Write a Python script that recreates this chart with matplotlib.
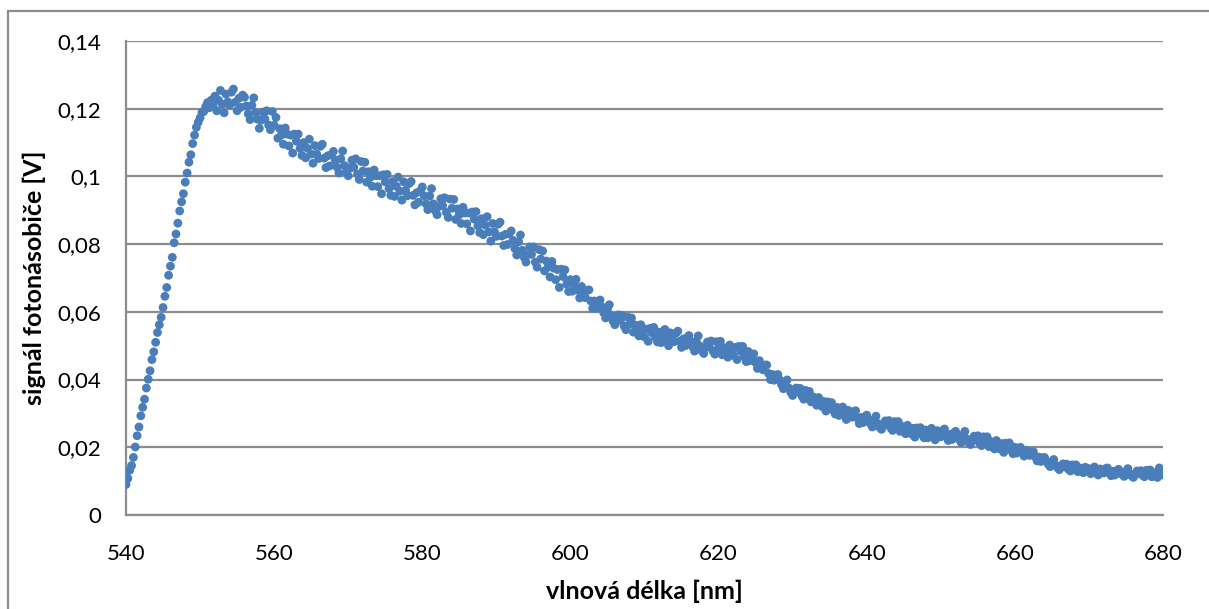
import numpy as np
import matplotlib
matplotlib.use("Agg")
import matplotlib.pyplot as plt
from matplotlib.patches import Rectangle
from matplotlib.ticker import FuncFormatter

# wavelength grid [nm] and photomultiplier signal [mV]
wavelength_start = 540.0
wavelength_step = 0.25
signal_mV = [
    9.0, 10.8, 13.2, 14.6, 17.0, 20.1, 23.4, 26.0,
    29.3, 31.8, 34.2, 37.5, 40.1, 42.6, 45.9, 48.2,
    51.0, 53.9, 56.2, 58.4, 61.3, 64.6, 67.2, 70.8,
    73.5, 76.1, 80.4, 83.0, 86.2, 89.8, 92.5, 94.9,
    98.3, 101.0, 104.2, 106.4, 109.7, 112.2, 114.5, 116.0,
    117.3, 118.9, 119.2, 120.6, 121.8, 120.3, 122.5, 121.0,
    123.7, 119.4, 122.5, 125.4, 121.3, 118.8, 124.3, 122.0,
    121.1, 124.9, 125.8, 121.9, 119.4, 123.1, 120.4, 124.0,
    123.4, 120.8, 118.5, 116.8, 121.0, 123.2, 118.8, 116.9,
    114.2, 116.6, 119.0, 117.0, 119.4, 115.2, 113.8, 119.2,
    115.1, 117.4, 111.3, 114.1, 112.2, 109.5, 114.3, 112.5,
    109.0, 112.2, 106.9, 112.5, 110.4, 112.5, 108.3, 106.2,
    110.0, 105.5, 108.3, 111.0, 106.6, 103.9, 109.1, 106.6,
    105.3, 108.9, 109.5, 105.4, 102.6, 106.1, 103.1, 106.5,
    107.4, 104.9, 102.7, 101.0, 105.2, 107.5, 103.2, 101.3,
    100.2, 102.5, 104.8, 102.7, 105.2, 100.7, 99.1, 104.4,
    101.6, 104.2, 98.3, 101.4, 99.7, 97.1, 101.9, 100.2,
    97.0, 100.2, 94.9, 100.5, 98.4, 100.6, 96.4, 94.4,
    98.5, 94.1, 97.1, 99.8, 95.6, 93.0, 98.4, 95.9,
    94.3, 97.9, 98.5, 94.4, 91.6, 95.2, 92.4, 95.8,
    96.9, 94.3, 91.9, 90.2, 94.2, 96.4, 91.9, 89.9,
    88.7, 91.1, 93.4, 91.4, 93.7, 89.4, 87.9, 93.3,
    90.6, 93.2, 87.3, 90.4, 88.7, 86.1, 90.9, 89.2,
    86.0, 89.2, 83.9, 89.5, 87.4, 89.6, 85.4, 83.4,
    87.5, 82.8, 85.6, 88.1, 83.6, 80.9, 86.1, 83.6,
    82.3, 85.9, 86.5, 82.4, 79.6, 82.9, 79.9, 83.1,
    83.9, 81.1, 78.7, 76.8, 80.7, 82.7, 78.2, 76.1,
    74.7, 76.9, 79.2, 77.0, 79.2, 74.7, 73.2, 78.4,
    75.6, 78.0, 72.1, 75.0, 73.2, 70.3, 74.9, 72.9,
    69.5, 72.5, 67.2, 72.6, 70.4, 72.4, 68.2, 66.0,
    69.5, 66.1, 68.0, 69.6, 66.4, 64.1, 67.5, 65.4,
    64.2, 66.3, 66.5, 63.2, 61.0, 63.2, 61.0, 63.1,
    63.5, 61.5, 59.7, 58.2, 60.8, 62.1, 58.9, 57.3,
    56.2, 57.6, 59.1, 57.5, 58.9, 55.8, 54.7, 58.4,
    56.4, 58.2, 54.0, 56.1, 54.8, 52.9, 56.2, 54.9,
    52.6, 54.9, 51.3, 55.1, 53.8, 55.4, 52.5, 51.1,
    54.0, 50.9, 53.0, 54.8, 51.9, 50.0, 53.8, 52.0,
    51.2, 53.7, 54.3, 51.3, 49.5, 52.0, 50.0, 52.3,
    53.0, 51.3, 49.7, 48.4, 51.3, 52.9, 49.9, 48.5,
    47.7, 49.4, 51.1, 49.7, 51.4, 48.4, 47.5, 51.2,
    49.4, 51.3, 47.3, 49.4, 48.3, 46.6, 50.2, 49.1,
    47.1, 49.5, 45.9, 49.8, 48.3, 49.8, 46.7, 45.3,
    48.3, 45.6, 46.7, 47.6, 45.0, 43.3, 45.6, 43.9,
    42.9, 44.3, 44.3, 41.8, 40.0, 41.5, 39.8, 41.3,
    41.5, 39.9, 38.5, 37.3, 39.1, 39.9, 37.5, 36.2,
    35.3, 36.4, 37.5, 36.4, 37.4, 35.1, 34.2, 36.8,
    35.3, 36.5, 33.4, 34.9, 33.8, 32.4, 34.7, 33.8,
    32.0, 33.5, 30.7, 33.4, 32.2, 33.2, 30.9, 29.8,
    31.8, 29.4, 30.7, 31.9, 29.5, 28.2, 30.9, 29.5,
    28.9, 30.6, 30.8, 28.6, 27.0, 28.8, 27.3, 29.0,
    29.5, 28.2, 27.0, 26.0, 28.1, 29.2, 27.0, 25.9,
    25.3, 26.5, 27.8, 26.7, 27.9, 25.7, 25.0, 27.6,
    26.3, 27.6, 24.7, 26.2, 25.3, 24.0, 26.5, 25.6,
    24.0, 25.6, 23.0, 25.7, 24.7, 25.8, 23.7, 22.8,
    25.1, 22.8, 24.3, 25.6, 23.5, 22.2, 24.9, 23.7,
    23.1, 24.9, 25.4, 23.3, 22.0, 23.8, 22.3, 24.2,
    24.7, 23.4, 22.3, 21.4, 23.6, 24.7, 22.5, 21.4,
    20.8, 22.0, 23.3, 22.2, 23.4, 21.2, 20.5, 23.1,
    21.8, 23.1, 20.2, 21.7, 20.8, 19.5, 22.0, 21.1,
    19.5, 21.1, 18.5, 21.2, 20.2, 21.3, 19.2, 18.1,
    20.0, 18.3, 19.2, 20.0, 18.5, 17.4, 19.1, 18.1,
    17.6, 18.7, 18.7, 17.2, 16.0, 17.1, 15.8, 16.9,
    17.0, 16.0, 15.0, 14.3, 15.6, 16.4, 14.7, 14.0,
    13.4, 14.3, 15.1, 14.2, 15.0, 13.5, 13.0, 14.8,
    13.9, 14.8, 12.8, 13.9, 13.3, 12.5, 14.1, 13.6,
    13.7, 12.2, 13.2, 14.2, 12.7, 11.8, 13.6, 12.8,
    12.4, 13.7, 13.9, 12.6, 11.6, 12.9, 11.8, 13.1,
    13.5, 12.7, 11.9, 11.4, 12.8, 13.7, 12.2, 11.6,
    11.1, 12.1, 13.0, 12.3, 13.1, 11.7, 11.3, 13.2,
    12.3, 13.3, 11.3, 12.5, 11.9, 11.1, 13.9, 12.3,
    11.8,
]

x_ticks = [540, 560, 580, 600, 620, 640, 660, 680]
y_ticks = [0, 0.02, 0.04, 0.06, 0.08, 0.1, 0.12, 0.14]
x_label = "vlnová délka [nm]"
y_label = "signál fotonásobiče [V]"

wavelength = wavelength_start + wavelength_step * np.arange(len(signal_mV))
signal = np.array(signal_mV) / 1000.0

plt.rcParams['font.family'] = ['Lato', 'DejaVu Sans']

W, H = 1209, 609
fig = plt.figure(figsize=(W / 100, H / 100), dpi=100)
ax = fig.add_axes([126 / W, 1 - 515 / H, (1163 - 126) / W, (515 - 41) / H])

grid_c = '#8c8c8c'
ax.scatter(wavelength, signal, s=40, color='#4A7EBB', edgecolors='none', zorder=3)

ax.set_xlim(540, 680)
ax.set_ylim(0, 0.14)
ax.set_xticks(x_ticks)
ax.set_yticks(y_ticks)

def fmt(v, pos):
    s = ('%.2f' % v).rstrip('0').rstrip('.')
    return s.replace('.', ',')

ax.yaxis.set_major_formatter(FuncFormatter(fmt))
ax.xaxis.set_major_formatter(FuncFormatter(lambda v, p: '%d' % v))
ax.grid(axis='y', color=grid_c, linewidth=1.6, zorder=0)
ax.tick_params(length=0, labelsize=16, colors='black')
ax.tick_params(axis='x', pad=21)
ax.tick_params(axis='y', pad=18)
for side in ['top', 'right']:
    ax.spines[side].set_visible(False)
for side in ['left', 'bottom']:
    ax.spines[side].set_color(grid_c)
    ax.spines[side].set_linewidth(1.6)

ax.set_xlabel(x_label, fontsize=18, fontweight='bold', labelpad=11)
ax.set_ylabel(y_label, fontsize=18, fontweight='bold', labelpad=8)

# chart frame
fig.patches.append(Rectangle((8 / W, -0.05), 1.2, 1 - 11 / H + 0.05,
                             transform=fig.transFigure, fill=False,
                             edgecolor=grid_c, linewidth=1.6))

fig.savefig('out.png', dpi=100)
